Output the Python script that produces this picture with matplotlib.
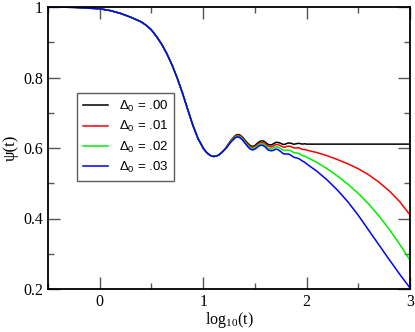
import matplotlib
matplotlib.use("Agg")
import matplotlib.pyplot as plt
from matplotlib.ticker import FixedLocator, MultipleLocator

# ---- data ----
# early part: all four curves coincide
x_early = [-0.5, -0.25, 0.0, 0.1, 0.2, 0.3, 0.4, 0.45, 0.5, 0.55, 0.6, 0.65, 0.7,
           0.75, 0.8, 0.85, 0.9, 0.95, 1.0, 1.025, 1.05, 1.075, 1.1, 1.125, 1.15,
           1.175, 1.2]
psi_early = [1.0, 0.999, 0.995, 0.990, 0.982, 0.971, 0.958, 0.948, 0.935, 0.916,
             0.894, 0.867, 0.835, 0.798, 0.756, 0.710, 0.665, 0.627, 0.600, 0.590,
             0.583, 0.578, 0.576, 0.577, 0.580, 0.586, 0.593]

# late part: curves separate
x_late = [1.225, 1.25, 1.275, 1.3, 1.315, 1.33, 1.345, 1.36,
          1.38, 1.4, 1.42, 1.44,
          1.455, 1.47, 1.485, 1.5, 1.515, 1.53,
          1.55, 1.565, 1.58, 1.6,
          1.615, 1.63, 1.645, 1.66, 1.675, 1.69, 1.705, 1.72, 1.735, 1.75, 1.765,
          1.78, 1.795, 1.81, 1.825, 1.84, 1.855, 1.87, 1.885, 1.9, 1.915, 1.93,
          1.945, 1.96,
          1.98, 2.0,
          2.1, 2.2, 2.3, 2.4, 2.5, 2.6, 2.7, 2.8, 2.9, 3.0]
psi_d00 = [0.603, 0.614, 0.624, 0.632, 0.636, 0.638, 0.638, 0.636,
           0.631, 0.624, 0.617, 0.611,
           0.607, 0.605, 0.605, 0.607, 0.611, 0.615,
           0.619, 0.620, 0.620, 0.617,
           0.613, 0.610, 0.609, 0.609, 0.611, 0.614, 0.616, 0.616, 0.615, 0.613, 0.611,
           0.610, 0.611, 0.613, 0.614, 0.614, 0.613, 0.611, 0.611, 0.612, 0.613, 0.613,
           0.612, 0.611,
           0.612, 0.611,
           0.611, 0.611, 0.611, 0.611, 0.611, 0.611, 0.611, 0.611, 0.611, 0.611]
psi_d01 = [0.602, 0.613, 0.622, 0.630, 0.634, 0.636, 0.636, 0.634,
           0.628, 0.621, 0.614, 0.608,
           0.604, 0.602, 0.602, 0.604, 0.607, 0.611,
           0.615, 0.616, 0.615, 0.612,
           0.608, 0.605, 0.604, 0.603, 0.605, 0.608, 0.610, 0.610, 0.608, 0.606, 0.604,
           0.602, 0.603, 0.605, 0.605, 0.605, 0.603, 0.601, 0.600, 0.600, 0.601, 0.600,
           0.598, 0.596,
           0.596, 0.594,
           0.587, 0.578, 0.567, 0.555, 0.541, 0.524, 0.503, 0.478, 0.448, 0.410]
psi_d02 = [0.601, 0.611, 0.621, 0.628, 0.632, 0.634, 0.633, 0.631,
           0.626, 0.618, 0.611, 0.605,
           0.601, 0.599, 0.599, 0.601, 0.604, 0.608,
           0.611, 0.612, 0.611, 0.607,
           0.603, 0.599, 0.598, 0.597, 0.599, 0.602, 0.603, 0.603, 0.601, 0.598, 0.595,
           0.593, 0.593, 0.594, 0.594, 0.593, 0.591, 0.588, 0.586, 0.586, 0.585, 0.584,
           0.581, 0.578,
           0.577, 0.574,
           0.559, 0.541, 0.520, 0.497, 0.471, 0.441, 0.407, 0.369, 0.327, 0.282]
psi_d03 = [0.600, 0.610, 0.619, 0.626, 0.630, 0.631, 0.631, 0.628,
           0.623, 0.615, 0.608, 0.601,
           0.597, 0.595, 0.595, 0.597, 0.600, 0.604,
           0.607, 0.608, 0.607, 0.603,
           0.598, 0.594, 0.593, 0.592, 0.593, 0.595, 0.597, 0.596, 0.593, 0.590, 0.586,
           0.583, 0.583, 0.583, 0.583, 0.581, 0.578, 0.575, 0.573, 0.572, 0.571, 0.569,
           0.566, 0.563,
           0.560, 0.555,
           0.534, 0.509, 0.480, 0.447, 0.409, 0.367, 0.325, 0.283, 0.242, 0.203]

labels = [".00", ".01", ".02", ".03"]
colors = ["black", "#ff0000", "#00ee00", "#0000ff"]

x_ticks = [0, 1, 2, 3]
x_tick_labels = ["0", "1", "2", "3"]
y_ticks = [0.2, 0.4, 0.6, 0.8, 1.0]
y_tick_labels = ["0.2", "0.4", "0.6", "0.8", "1"]

serif = "Liberation Serif"
sans = "Liberation Sans"

fig = plt.figure(figsize=(4.15, 3.32), dpi=100)
ax = fig.add_axes([48 / 415, 43 / 332, 362 / 415, 282 / 332])

series = [psi_d00, psi_d01, psi_d02, psi_d03]
for late, lab, col in zip(series, labels, colors):
    ax.plot(x_early + x_late, psi_early + late, color=col, lw=1.1,
            label="Δ$_\\mathregular{0}$ = " + lab)

ax.set_xlim(-0.5, 3)
ax.set_ylim(0.2, 1)

ax.xaxis.set_major_locator(FixedLocator(x_ticks))
ax.set_xticklabels(x_tick_labels)
ax.yaxis.set_major_locator(FixedLocator(y_ticks))
ax.set_yticklabels(y_tick_labels)
ax.xaxis.set_minor_locator(MultipleLocator(0.5))
ax.yaxis.set_minor_locator(MultipleLocator(0.1))
ax.tick_params(which="both", direction="in", top=True, right=True,
               width=1.0, color="#555555")
ax.tick_params(which="major", length=8.5, labelsize=11.5, pad=3.5)
ax.tick_params(which="minor", length=4.3)
for lbl in ax.get_xticklabels() + ax.get_yticklabels():
    lbl.set_fontfamily(serif)
for sp in ax.spines.values():
    sp.set_linewidth(1.3)

ax.set_xlabel("log$_\\mathregular{10}$(t)", fontfamily=serif, fontsize=11.5, labelpad=0)
ax.set_ylabel("ψ(t)", fontfamily=serif, fontsize=12, labelpad=3)

leg = ax.legend(loc="upper left", bbox_to_anchor=(29 / 362, (289 - 93) / 282),
                prop={"family": sans, "size": 9.5}, frameon=True, fancybox=False,
                handlelength=1.9, handletextpad=0.8, labelspacing=0.4,
                borderpad=0.45, borderaxespad=0)
leg.get_frame().set_edgecolor("#333333")
leg.get_frame().set_linewidth(1.0)

fig.savefig("out.png", dpi=100)
